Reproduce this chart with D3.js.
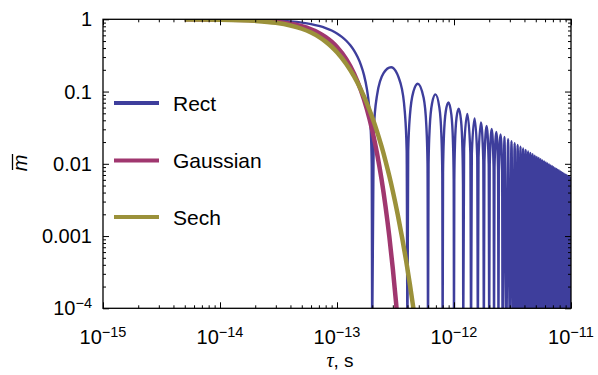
<!DOCTYPE html>
<html>
<head>
<meta charset="utf-8">
<script src="https://cdn.jsdelivr.net/npm/d3@7"></script>
<style>
  body { margin: 0; background: #fff; }
  text { font-family: "Liberation Sans", Arial, Helvetica, sans-serif; fill: #000; }
</style>
</head>
<body>
<svg id="chart" width="598" height="375"></svg>
<script>
// tau values are given in units of 1e-13 s
const TAU_UNIT = 1e-13;
// value used at the zeros of the Rect curve (below the visible range, clipped)
const Z = 5e-5;

const rectTau = [
  0.05, 0.1, 0.2, 0.3, 0.4, 0.5, 0.6, 0.7, 0.8, 0.9, 1.0, 1.1, 1.2, 1.3, 1.4, 1.5, 1.6, 1.7, 1.8, 1.85, 1.9, 1.95, 1.98, 2.0,
  2.06, 2.2, 2.5, 2.9, 3.5, 3.8, 3.94, 4.0,
  4.06, 4.2, 4.5, 4.9, 5.5, 5.8, 5.94, 6.0,
  6.06, 6.2, 6.5, 6.94, 7.5, 7.8, 7.94, 8.0,
  8.06, 8.2, 8.5, 8.96, 9.5, 9.8, 9.94, 10.0,
  10.06, 10.2, 10.5, 10.96, 11.5, 11.8, 11.94, 12.0,
  12.2, 13, 13.8, 14,
  14.2, 15, 15.8, 16,
  16.2, 17, 17.8, 18,
  18.2, 19, 19.8, 20,
  20.2, 21, 21.8, 22,
  22.2, 23, 23.8, 24,
  24.2, 25, 25.8, 26,
  27, 28, 29, 30, 31, 32, 33, 34, 35, 36, 37, 38, 39, 40, 41, 42, 43, 44,
  45, 46, 47, 48, 49, 50, 51, 52, 53, 54, 55, 56, 57, 58, 59, 60, 61, 62,
  63, 64, 65, 66, 67, 68, 69, 70, 71, 72, 73, 74, 75, 76, 77, 78, 79, 80,
  81, 82, 83, 84, 85, 86, 87, 88, 89, 90, 91, 92, 93, 94, 95, 96, 97, 98,
  99, 100
];
const rectM = [
  0.999, 0.996, 0.984, 0.963, 0.935, 0.900, 0.858, 0.810, 0.757, 0.699, 0.637, 0.572, 0.505, 0.436, 0.368, 0.300, 0.234, 0.170, 0.109, 0.0803, 0.0524, 0.0256, 0.0101, Z,
  0.0291, 0.0894, 0.180, 0.217, 0.1286, 0.0518, 0.0152, Z,
  0.01476, 0.0468, 0.1000, 0.1284, 0.0818, 0.0339, 0.01008, Z,
  0.00989, 0.0317, 0.0692, 0.0913, 0.0600, 0.0252, 0.00755, Z,
  0.00743, 0.0240, 0.0530, 0.0709, 0.0474, 0.0201, 0.00603, Z,
  0.00596, 0.0193, 0.0429, 0.0580, 0.0391, 0.0167, 0.00502, Z,
  0.01613, 0.0490, 0.01425, Z,
  0.01385, 0.0424, 0.01245, Z,
  0.01214, 0.0374, 0.01105, Z,
  0.01081, 0.0335, 0.00994, Z,
  0.00974, 0.0303, 0.00902, Z,
  0.00886, 0.0277, 0.00827, Z,
  0.00813, 0.0255, 0.00762, Z,
  0.02358, Z, 0.02195, Z, 0.02054, Z, 0.01929, Z, 0.01819, Z, 0.01721, Z, 0.01632, Z, 0.01553, Z, 0.01481, Z,
  0.01415, Z, 0.01354, Z, 0.01299, Z, 0.01248, Z, 0.01201, Z, 0.01158, Z, 0.01117, Z, 0.01079, Z, 0.01044, Z,
  0.01011, Z, 0.00979, Z, 0.00950, Z, 0.00923, Z, 0.00897, Z, 0.00872, Z, 0.00849, Z, 0.00827, Z, 0.00806, Z,
  0.00786, Z, 0.00767, Z, 0.00749, Z, 0.00732, Z, 0.00715, Z, 0.00700, Z, 0.00685, Z, 0.00670, Z, 0.00656, Z,
  0.00643, Z
];

const gaussTau = [0.05, 0.1, 0.2, 0.3, 0.4, 0.5, 0.6, 0.7, 0.8, 0.9, 1.0, 1.2, 1.4, 1.6, 1.8, 2.0, 2.2, 2.4, 2.6, 2.8, 3.0, 3.2, 3.4];
const gaussM = [0.998, 0.991, 0.965, 0.924, 0.868, 0.802, 0.728, 0.649, 0.568, 0.489, 0.413, 0.280, 0.177, 0.104, 0.0572, 0.0292, 0.0139, 0.00617, 0.00255, 0.000983, 0.000353, 0.000118, 0.0000368];

const sechTau = [0.05, 0.1, 0.2, 0.3, 0.4, 0.5, 0.6, 0.7, 0.8, 0.9, 1.0, 1.2, 1.4, 1.6, 1.8, 2.0, 2.2, 2.4, 2.6, 2.8, 3.0, 3.3, 3.6, 3.9, 4.2, 4.5, 4.8];
const sechM = [0.9968, 0.9873, 0.951, 0.895, 0.822, 0.740, 0.655, 0.571, 0.491, 0.417, 0.350, 0.241, 0.162, 0.1064, 0.0689, 0.0440, 0.0279, 0.0175, 0.01091, 0.00676, 0.00417, 0.00200, 0.000954, 0.000453, 0.000213, 0.0000994, 0.0000463];

const seriesNames = ["Rect", "Gaussian", "Sech"];
const seriesColors = ["#3e3e9c", "#a0376f", "#9b913a"];
const seriesWidths = [2.4, 4.5, 4.5];

const xTickExp = [-15, -14, -13, -12, -11];
const yTickLabels = ["1", "0.1", "0.01", "0.001", "10|-4"];
const yTickValues = [1, 0.1, 0.01, 0.001, 1e-4];

const plotLeft = 103, plotRight = 571, plotTop = 19.3, plotBottom = 308.3;

const svg = d3.select("#chart");

const x = d3.scaleLog().domain([1e-15, 1e-11]).range([plotLeft, plotRight]);
const y = d3.scaleLog().domain([1e-4, 1]).range([plotBottom, plotTop]);

const isMajor = (d) => Math.abs(Math.log10(d) - Math.round(Math.log10(d))) < 1e-6;
const xMinor = x.ticks().filter((d) => !isMajor(d));
const xMajor = x.ticks().filter(isMajor);
const yMinor = y.ticks().filter((d) => !isMajor(d));
const yMajor = y.ticks().filter(isMajor);

svg.append("clipPath").attr("id", "plotClip")
  .append("rect")
  .attr("x", plotLeft).attr("y", plotTop)
  .attr("width", plotRight - plotLeft).attr("height", plotBottom - plotTop);

// curves
const toPts = (taus, ms) => taus.map((t, i) => [t * TAU_UNIT, ms[i]]);
const seriesData = [toPts(rectTau, rectM), toPts(gaussTau, gaussM), toPts(sechTau, sechM)];

const line = d3.line()
  .x((d) => x(d[0]))
  .y((d) => y(d[1]))
  .curve(d3.curveMonotoneX);

const plot = svg.append("g").attr("clip-path", "url(#plotClip)");
seriesData.forEach((pts, i) => {
  plot.append("path")
    .attr("d", line(pts))
    .attr("fill", "none")
    .attr("stroke", seriesColors[i])
    .attr("stroke-width", seriesWidths[i])
    .attr("stroke-linejoin", "round");
});

// ticks on all four sides, pointing inward
const drawAxis = (axis, trans, vals, size) => {
  svg.append("g")
    .attr("transform", trans)
    .call(axis.tickValues(vals).tickSize(size).tickSizeOuter(0).tickFormat(""))
    .call((g) => g.select(".domain").remove())
    .call((g) => g.selectAll("line").attr("stroke", "#000"));
};
drawAxis(d3.axisBottom(x), `translate(0,${plotBottom})`, xMinor, -3);
drawAxis(d3.axisBottom(x), `translate(0,${plotBottom})`, xMajor, -6);
drawAxis(d3.axisTop(x), `translate(0,${plotTop})`, xMinor, -3);
drawAxis(d3.axisTop(x), `translate(0,${plotTop})`, xMajor, -6);
drawAxis(d3.axisLeft(y), `translate(${plotLeft},0)`, yMinor, -3);
drawAxis(d3.axisLeft(y), `translate(${plotLeft},0)`, yMajor, -6);
drawAxis(d3.axisRight(y), `translate(${plotRight},0)`, yMinor, -3);
drawAxis(d3.axisRight(y), `translate(${plotRight},0)`, yMajor, -6);

svg.append("rect")
  .attr("x", plotLeft).attr("y", plotTop)
  .attr("width", plotRight - plotLeft).attr("height", plotBottom - plotTop)
  .attr("fill", "none").attr("stroke", "#000").attr("stroke-width", 1.3);

// x tick labels
xTickExp.forEach((e) => {
  const t = svg.append("text")
    .attr("x", x(Math.pow(10, e)))
    .attr("y", 344)
    .attr("text-anchor", "middle")
    .attr("font-size", 20);
  t.append("tspan").text("10");
  t.append("tspan").attr("dy", -7.5).attr("font-size", 14.5).text("\u2212" + (-e));
});

// y tick labels
yTickLabels.forEach((lab, i) => {
  const t = svg.append("text")
    .attr("x", 92)
    .attr("y", y(yTickValues[i]) + 7)
    .attr("text-anchor", "end")
    .attr("font-size", 20);
  const parts = lab.split("|");
  t.append("tspan").text(parts[0]);
  if (parts[1]) t.append("tspan").attr("dy", -7.5).attr("font-size", 14.5).text(parts[1].replace("-", "\u2212"));
});

// axis titles
const xt = svg.append("text")
  .attr("x", 340).attr("y", 367)
  .attr("text-anchor", "middle")
  .attr("font-size", 19);
xt.append("tspan").attr("font-family", "Liberation Serif, serif").attr("font-style", "italic").attr("font-size", 20).text("\u03c4");
xt.append("tspan").text(", s");

svg.append("text")
  .attr("transform", "translate(27,163) rotate(-90)")
  .attr("text-anchor", "middle")
  .attr("font-size", 20)
  .attr("font-style", "italic")
  .text("m");
svg.append("line")
  .attr("x1", 12.5).attr("x2", 12.5)
  .attr("y1", 154).attr("y2", 170)
  .attr("stroke", "#000").attr("stroke-width", 1.3);

// legend
const legendY = [103, 160.5, 217];
seriesNames.forEach((name, i) => {
  svg.append("line")
    .attr("x1", 114).attr("x2", 159)
    .attr("y1", legendY[i]).attr("y2", legendY[i])
    .attr("stroke", seriesColors[i])
    .attr("stroke-width", 4);
  svg.append("text")
    .attr("x", 173).attr("y", legendY[i] + 7.5)
    .attr("font-size", 21)
    .text(name);
});
</script>
</body>
</html>
